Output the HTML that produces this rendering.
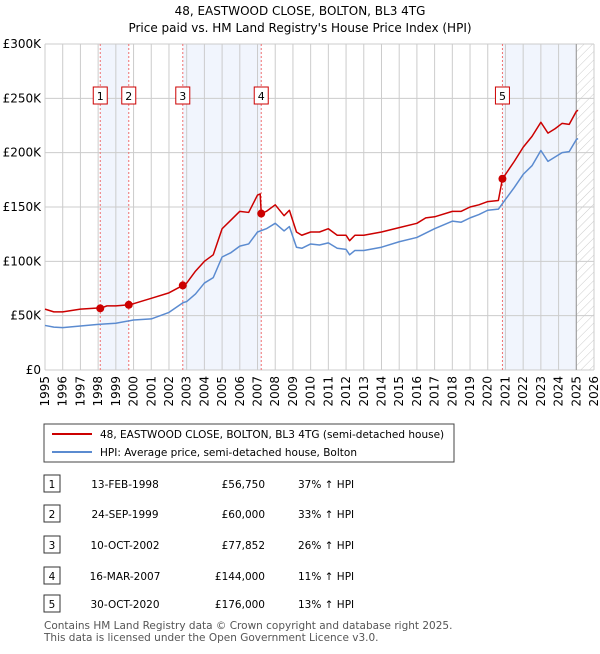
<!DOCTYPE html>
<html><head><meta charset="utf-8"><style>
body{margin:0;width:600px;height:650px;background:#fff;font-family:"DejaVu Sans","Liberation Sans",sans-serif;overflow:hidden}
svg text{font-family:"DejaVu Sans","Liberation Sans",sans-serif}
</style></head><body>
<svg width="600" height="650">
<defs><pattern id="hatch" width="6" height="6" patternUnits="userSpaceOnUse" patternTransform="rotate(45)"><line x1="0" y1="0" x2="0" y2="6" stroke="#ccc" stroke-width="1"/></pattern></defs>
<text x="300" y="15" text-anchor="middle" font-size="12">48, EASTWOOD CLOSE, BOLTON, BL3 4TG</text>
<text x="300" y="32" text-anchor="middle" font-size="12">Price paid vs. HM Land Registry's House Price Index (HPI)</text>
<g id="plot"></g>
<g id="legend">
<rect x="44" y="424" width="410" height="38" fill="#fff" stroke="#444"/>
<line x1="52" y1="434" x2="92" y2="434" stroke="#cc0000" stroke-width="2"/>
<text x="100" y="438" font-size="10.5">48, EASTWOOD CLOSE, BOLTON, BL3 4TG (semi-detached house)</text>
<line x1="52" y1="452" x2="92" y2="452" stroke="#5b8bd0" stroke-width="2"/>
<text x="100" y="456" font-size="10.5">HPI: Average price, semi-detached house, Bolton</text>
</g>
<g id="table" font-size="10.5"></g>
<text x="44" y="629" font-size="10.5" fill="#555">Contains HM Land Registry data © Crown copyright and database right 2025.</text>
<text x="44" y="641" font-size="10.5" fill="#555">This data is licensed under the Open Government Licence v3.0.</text>
</svg>
<script>
const hpiYears=[1995,1995.5,1996,1997,1998,1999,2000,2001,2002,2002.8,2003,2003.5,2004,2004.5,2005,2005.5,2006,2006.5,2007,2007.5,2008,2008.5,2008.8,2009.2,2009.5,2010,2010.5,2011,2011.5,2012,2012.2,2012.5,2013,2014,2015,2016,2016.5,2017,2018,2018.5,2019,2019.5,2020,2020.6,2021,2021.5,2022,2022.5,2023,2023.4,2023.8,2024.2,2024.6,2025,2025.1];
const hpiValues=[41,39.5,39,40.5,42,43,46,47,53,62,63,70,80,85,104,108,114,116,127,130,135,128,132,113,112,116,115,117,112,111,106,110,110,113,118,122,126,130,137,136,140,143,147,148,157,168,180,188,202,192,196,200,201,212,213];
const priceYears=[1995,1995.5,1996,1997,1998,1998.12,1998.5,1999,1999.73,2000,2001,2002,2002.78,2003,2003.5,2004,2004.5,2005,2005.5,2006,2006.5,2007,2007.15,2007.21,2007.5,2008,2008.5,2008.8,2009.2,2009.5,2010,2010.5,2011,2011.5,2012,2012.2,2012.5,2013,2014,2015,2016,2016.5,2017,2018,2018.5,2019,2019.5,2020,2020.6,2020.83,2021,2021.5,2022,2022.5,2023,2023.4,2023.8,2024.2,2024.6,2025,2025.1];
const priceValues=[56,53.5,53.5,56,57,56.75,59,59,60,61,66,71,77.85,80,91,100,106,130,138,146,145,161,162,144,146,152,142,147,127,124,127,127,130,124,124,119,124,124,127,131,135,140,141,146,146,150,152,155,156,176,180,192,205,215,228,218,222,227,226,238,239];
const saleLabels=["1","2","3","4","5"];
const saleYears=[1998.12,1999.73,2002.78,2007.21,2020.83];
const saleValues=[56.75,60,77.852,144,176];
const saleDates=["13-FEB-1998","24-SEP-1999","10-OCT-2002","16-MAR-2007","30-OCT-2020"];
const salePrices=["£56,750","£60,000","£77,852","£144,000","£176,000"];
const salePct=["37% ↑ HPI","33% ↑ HPI","26% ↑ HPI","11% ↑ HPI","13% ↑ HPI"];
const yTicks=[0,50,100,150,200,250,300];
const yTickLabels=["£0","£50K","£100K","£150K","£200K","£250K","£300K"];
const xTicks=[1995,1996,1997,1998,1999,2000,2001,2002,2003,2004,2005,2006,2007,2008,2009,2010,2011,2012,2013,2014,2015,2016,2017,2018,2019,2020,2021,2022,2023,2024,2025,2026];

const L=45,R=594,T=44,B=370,x0=1995,x1=2026,yMax=300;
const X=v=>L+(v-x0)/(x1-x0)*(R-L);
const Y=v=>B-v/yMax*(B-T);
const NS="http://www.w3.org/2000/svg";
const plot=document.getElementById('plot');
function mk(tag,attrs,parent){const e=document.createElementNS(NS,tag);for(const k in attrs)e.setAttribute(k,attrs[k]);(parent||plot).appendChild(e);return e;}

[[0,1],[2,3],[4,null]].forEach(([a,b])=>{
 const xa=X(saleYears[a]), xb=b===null?X(2025):X(saleYears[b]);
 const r=mk('rect',{x:xa,y:T,width:xb-xa,height:B-T,fill:'#eef3fc',opacity:0.8});
 
 
});
const h=mk('rect',{x:X(2025),y:T,width:R-X(2025),height:B-T,fill:'url(#hatch)'});


yTicks.forEach((v,i)=>{
 const g=mk('line',{x1:L,x2:R,y1:Y(v),y2:Y(v),stroke:'#ccc'});
 
 
 const t=mk('text',{x:L-4,y:Y(v)+4,'text-anchor':'end','font-size':12});
 t.textContent=yTickLabels[i];
 
 
});
xTicks.forEach(v=>{
 const g=mk('line',{x1:X(v),x2:X(v),y1:T,y2:B,stroke:'#ccc'});
 
 
 const t=mk('text',{x:0,y:0,'text-anchor':'end','font-size':12,transform:`translate(${X(v)+4},${B+6}) rotate(-90)`});
 t.textContent=v;
 
 
});
const ev=mk('line',{x1:X(2025),x2:X(2025),y1:T,y2:B,stroke:'#999'});


saleYears.forEach((s,i)=>{
 const l=mk('line',{x1:X(s),x2:X(s),y1:T,y2:B,stroke:'#f07070','stroke-dasharray':'2,2'});
 
 
 const bx=mk('rect',{x:X(s)-7,y:87,width:14,height:17,fill:'#fff',stroke:'#cc0000'});
 
 
 const t=mk('text',{x:X(s),y:100,'text-anchor':'middle','font-size':11});
 t.textContent=saleLabels[i];
 
 
});
function line(xs,vs,col,name){
 const p=mk('polyline',{points:xs.map((x,i)=>X(x)+','+Y(vs[i])).join(' '),fill:'none',stroke:col,'stroke-width':1.5,'stroke-linejoin':'round'});
 
 
}
line(hpiYears,hpiValues,'#5b8bd0','hpi-line');
line(priceYears,priceValues,'#cc0000','price-line');
saleYears.forEach((s,i)=>{
 const c=mk('circle',{cx:X(s),cy:Y(saleValues[i]),r:4,fill:'#cc0000'});
 
 
});
const tb=document.getElementById('table');
const rowY=[484,514,545,576,604];
rowY.forEach((y,i)=>{
 const r=mk('rect',{x:44,y:y-9,width:16,height:17,fill:'#fff',stroke:'#333'},tb);
 
 
 const cells=[[52,'middle',saleLabels[i]],[125,'middle',saleDates[i]],[265,'end',salePrices[i]],[298,'start',salePct[i]]];
 cells.forEach(([x,a,txt])=>{
  const t=mk('text',{x:x,y:y+4,'text-anchor':a,'font-size':10.5},tb);
  t.textContent=txt;
  
  
 });
});
</script>
</body></html>
